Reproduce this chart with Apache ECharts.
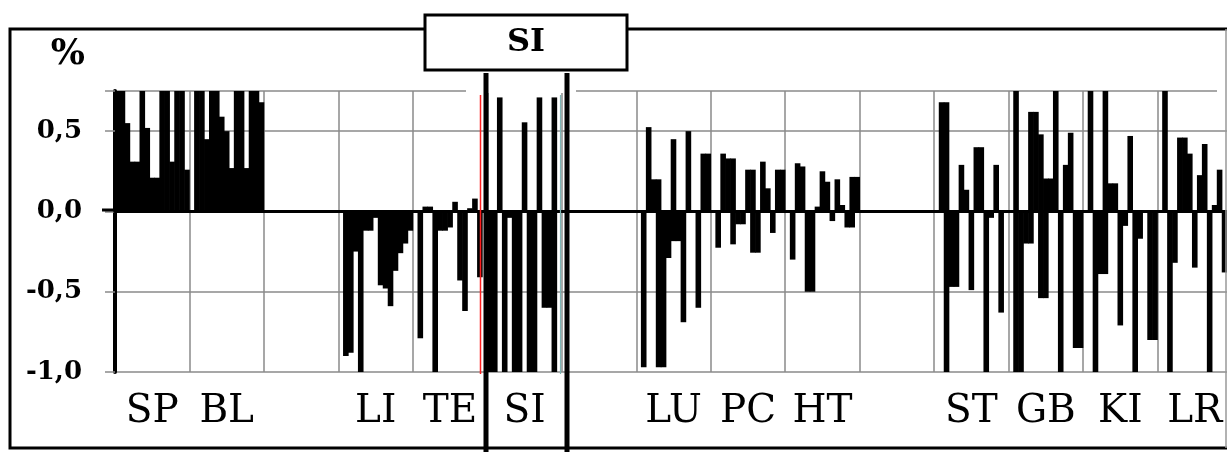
<!DOCTYPE html>
<html><head><meta charset="utf-8">
<script src="https://cdn.jsdelivr.net/npm/echarts@6/dist/echarts.min.js"></script>
<style>html,body{margin:0;padding:0;background:#fff}#c{width:1227px;height:452px}</style>
</head><body><div id="c"></div>
<script>
const _ = null;
// cell labels along the bottom (15 cells, one per meridian group / blank cell)
const meridianLabels = ['SP','BL','','LI','TE','SI','','LU','PC','HT','','ST','GB','KI','LR'];
const boxTitle = 'SI';
const yUnit = '%';
// 15 measurement slots per meridian: upward and downward deviations (%)
const spUp   = [0.75,0.75,0.55,0.31,0.31,0.75,0.52,0.21,0.21,0.75,0.75,0.31,0.75,0.75,0.26];
const spDown = [_,_,_,_,_,_,_,_,_,_,_,_,_,_,_];
const blUp   = [_,0.75,0.75,0.45,0.75,0.75,0.59,0.5,0.27,0.75,0.75,0.27,0.75,0.75,0.68];
const blDown = [_,_,_,_,_,_,_,_,_,_,_,_,_,_,_];
const noUp   = [_,_,_,_,_,_,_,_,_,_,_,_,_,_,_];
const noDown = [_,_,_,_,_,_,_,_,_,_,_,_,_,_,_];
const liUp   = [_,_,_,_,_,_,_,_,_,_,_,_,_,_,_];
const liDown = [_,-0.9,-0.88,-0.25,-1.0,-0.12,-0.12,-0.04,-0.46,-0.48,-0.59,-0.37,-0.26,-0.2,-0.12];
const teUp   = [_,_,0.03,0.03,_,_,_,_,0.06,_,_,0.02,0.08,_,_];
const teDown = [_,-0.79,_,_,-1.0,-0.12,-0.12,-0.1,_,-0.43,-0.62,_,_,-0.41,_];
const siUp   = [_,_,0.71,_,_,_,_,0.555,_,_,0.71,_,_,0.71,_];
const siDown = [-1.0,-1.0,_,-1.0,-0.04,-1.0,-1.0,_,-1.0,-1.0,_,-0.6,-0.6,-1.0,_];
const luUp   = [_,_,0.525,0.2,0.2,_,_,0.45,_,_,0.5,_,_,0.36,0.36];
const luDown = [_,-0.97,_,_,-0.97,-0.97,-0.29,-0.185,-0.185,-0.69,_,_,-0.6,_,_];
const pcUp   = [_,_,0.36,0.33,0.33,_,_,0.26,0.26,_,0.31,0.144,_,0.26,0.26];
const pcDown = [_,-0.226,_,_,-0.205,-0.08,-0.08,_,-0.257,-0.257,_,_,-0.134,_,_];
const htUp   = [_,_,0.30,0.28,_,_,0.03,0.25,0.185,_,0.20,0.04,_,0.215,0.215];
const htDown = [_,-0.30,_,_,-0.50,-0.50,_,_,_,-0.06,_,_,-0.1,-0.1,_];
const stUp   = [_,0.68,0.68,_,_,0.29,0.135,_,0.40,0.40,_,_,0.29,_,_];
const stDown = [_,_,-1.0,-0.47,-0.47,_,_,-0.49,_,_,-1.0,-0.04,_,-0.63,_];
const gbUp   = [_,0.75,_,_,0.62,0.62,0.48,0.205,0.205,0.75,_,0.29,0.49,_,_];
const gbDown = [_,-1.0,-1.0,-0.2,-0.2,_,-0.54,-0.54,_,_,-1.0,_,_,-0.85,-0.85];
const kiUp   = [_,0.75,_,_,0.75,0.175,0.175,_,_,0.47,_,_,_,_,_];
const kiDown = [_,_,-1.0,-0.39,-0.39,_,_,-0.71,-0.09,_,-1.0,-0.17,_,-0.80,-0.80];
const lrUp   = [_,0.75,_,_,0.46,0.46,0.36,_,0.226,0.42,_,0.04,0.26,_,_];
const lrDown = [_,_,-1.0,-0.32,_,_,_,-0.35,_,_,-1.0,_,_,-0.38,-0.38];

const upValues = [].concat(spUp,blUp,noUp,liUp,teUp,siUp,noUp,luUp,pcUp,htUp,noUp,stUp,gbUp,kiUp,lrUp);
const downValues = [].concat(spDown,blDown,noDown,liDown,teDown,siDown,noDown,luDown,pcDown,htDown,noDown,stDown,gbDown,kiDown,lrDown);
const slots = upValues.map((v,i)=>String(i));

const serif = 'DejaVu Serif';
const grid = '#8a8a8a';
const chart = echarts.init(document.getElementById('c'), null, {renderer:'canvas'});
chart.setOption({
  animation:false,
  backgroundColor:'#fff',
  grid:{left:115, top:91, width:1117, height:281, outerBoundsMode:'none', containLabel:false},
  xAxis:[
    {type:'category', data:slots, axisLine:{onZero:true, lineStyle:{color:'#000', width:3}},
     axisTick:{show:false}, axisLabel:{show:false}, splitLine:{show:false}, z:3},
    {type:'category', data:meridianLabels, position:'bottom',
     axisLine:{show:false, onZero:false}, axisTick:{show:false},
     axisLabel:{interval:0, fontFamily:serif, fontSize:39, color:'#000', margin:20},
     splitLine:{show:true, interval:0, lineStyle:{color:grid, width:1.5}}}
  ],
  yAxis:{type:'value', min:-1, max:0.75, interval:0.5,
    name:yUnit, nameLocation:'end', nameGap:18,
    nameTextStyle:{fontFamily:serif, fontWeight:'bold', fontSize:36, color:'#000', align:'right', padding:[0,30,0,0]},
    axisLine:{show:true, lineStyle:{color:'#000', width:4}},
    axisTick:{show:true, length:10, lineStyle:{color:grid, width:1.5}},
    axisLabel:{fontFamily:serif, fontWeight:'bold', fontSize:26, color:'#000', margin:33,
      formatter:v=> Math.abs(v*2 - Math.round(v*2))<1e-9 ? v.toFixed(1).replace('.',',') : ''},
    splitLine:{show:true, lineStyle:{color:grid, width:1.5}}},
  series:[
    {type:'bar', name:'up', data:upValues, barWidth:5.6, barGap:'-100%', itemStyle:{color:'#000'}, silent:true},
    {type:'bar', name:'down', data:downValues, barWidth:5.6, barGap:'-100%', itemStyle:{color:'#000'}, silent:true}
  ],
  graphic:[
    {type:'polyline', z:10, shape:{points:[[1240,29],[10,29],[10,448],[1240,448]]}, style:{fill:'none', stroke:'#000', lineWidth:3}},
    {type:'line', z:10, shape:{x1:1226,y1:29,x2:1226,y2:448}, style:{stroke:'#999', lineWidth:1.5}},
    {type:'line', z:10, shape:{x1:102,y1:210,x2:115,y2:210}, style:{stroke:'#000', lineWidth:3}},
    {type:'rect', z:1, shape:{x:466,y:88,width:110,height:5}, style:{fill:'#fff'}},
    {type:'rect', z:1, shape:{x:1217,y:88,width:20,height:5}, style:{fill:'#fff'}},
    {type:'line', z:9, shape:{x1:480.5,y1:95,x2:480.5,y2:374}, style:{stroke:'#ff2020', lineWidth:1.5}},
    {type:'line', z:9, shape:{x1:560.5,y1:95,x2:560.5,y2:374}, style:{stroke:'#7fb5b5', lineWidth:1.2}},
    {type:'line', z:11, shape:{x1:486,y1:73,x2:486,y2:452}, style:{stroke:'#000', lineWidth:5}},
    {type:'line', z:11, shape:{x1:567,y1:73,x2:567,y2:452}, style:{stroke:'#000', lineWidth:5}},
    {type:'rect', z:12, shape:{x:425,y:15,width:202,height:55}, style:{fill:'#fff', stroke:'#000', lineWidth:3}},
    {type:'text', z:13, x:526, y:43, style:{text:boxTitle, fontFamily:serif, fontWeight:'bold', fontSize:32, fill:'#000', align:'center', verticalAlign:'middle'}}
  ]
});
</script></body></html>
